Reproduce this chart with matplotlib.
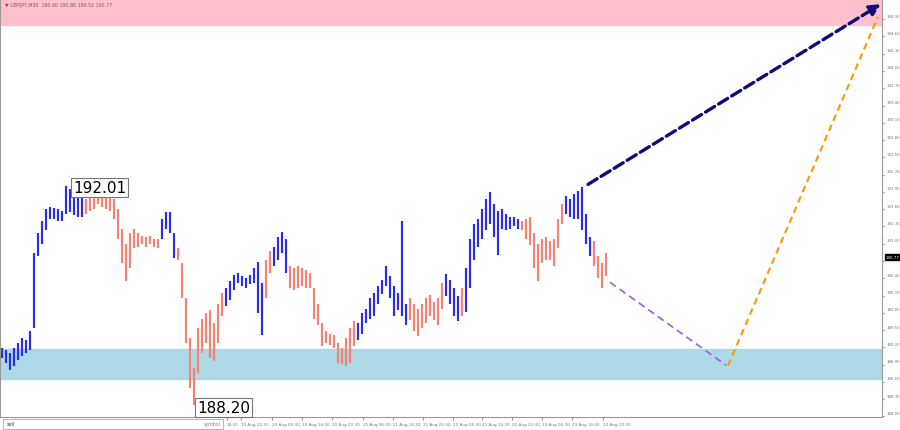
import matplotlib
matplotlib.use("Agg")
import matplotlib.pyplot as plt
import matplotlib.transforms as mtransforms
from matplotlib.patches import Rectangle

# GBPJPY M30 bars (high / low per bar)
highs = [189.19, 189.15, 189.10, 189.19, 189.27, 189.36, 189.32, 189.48, 190.83, 191.18,
         191.40, 191.61, 191.64, 191.62, 191.61, 191.57, 192.01, 191.95, 191.92, 191.92,
         191.86, 191.78, 191.81, 191.86, 191.95, 191.92, 191.95, 191.95, 191.78, 191.61,
         191.26, 191.00, 191.18, 191.26, 191.18, 191.14, 191.12, 191.14, 191.09, 191.09,
         191.43, 191.55, 191.55, 191.18, 190.92, 190.66, 190.05, 189.36, 188.84, 189.53,
         189.70, 189.79, 189.84, 189.62, 189.96, 190.14, 190.23, 190.35, 190.45, 190.49,
         190.44, 190.40, 190.45, 190.57, 190.69, 190.31, 190.71, 190.88, 190.95, 191.12,
         191.21, 191.09, 190.61, 190.57, 190.61, 190.57, 190.54, 190.49, 190.23, 189.96,
         189.62, 189.48, 189.44, 189.41, 189.27, 189.19, 189.36, 189.53, 189.65, 189.62,
         189.79, 189.87, 190.05, 190.14, 190.26, 190.37, 190.61, 190.44, 190.26, 190.14,
         191.40, 189.96, 190.05, 189.96, 189.87, 189.96, 190.05, 190.11, 189.99, 190.05,
         190.31, 190.47, 190.37, 190.23, 190.09, 190.23, 190.57, 191.09, 191.35, 191.43,
         191.61, 191.78, 191.90, 191.69, 191.57, 191.61, 191.52, 191.47, 191.47, 191.43,
         191.40, 191.43, 191.47, 191.18, 191.00, 191.09, 191.12, 191.04, 191.09, 191.43,
         191.69, 191.83, 191.78, 191.86, 191.92, 191.98, 191.52, 191.12, 191.04, 190.78,
         190.66, 190.83]
lows = [189.01, 188.93, 188.81, 188.88, 188.98, 189.05, 189.10, 189.15, 189.53, 190.78,
        191.00, 191.23, 191.43, 191.43, 191.40, 191.40, 191.52, 191.55, 191.49, 191.47,
        191.47, 191.52, 191.57, 191.61, 191.69, 191.64, 191.61, 191.57, 191.43, 191.09,
        190.66, 190.35, 190.57, 190.92, 190.95, 191.00, 190.95, 190.99, 190.95, 190.92,
        191.09, 191.26, 191.18, 190.75, 190.71, 190.05, 189.27, 188.50, 188.20, 188.76,
        189.10, 189.27, 189.01, 188.96, 189.27, 189.74, 189.91, 190.02, 190.19, 190.31,
        190.26, 190.23, 190.30, 190.31, 189.79, 189.41, 190.05, 190.49, 190.61, 190.71,
        190.83, 190.49, 190.23, 190.19, 190.23, 190.26, 190.23, 190.23, 189.70, 189.58,
        189.22, 189.27, 189.24, 189.19, 188.93, 188.91, 188.88, 188.93, 189.22, 189.32,
        189.44, 189.62, 189.70, 189.74, 189.96, 190.13, 190.26, 190.05, 189.75, 189.84,
        189.74, 189.58, 189.67, 189.48, 189.39, 189.53, 189.62, 189.74, 189.67, 189.58,
        189.87, 190.09, 189.96, 189.74, 189.65, 189.74, 189.82, 190.23, 190.71, 190.95,
        191.09, 191.23, 191.35, 191.12, 190.80, 191.26, 191.23, 191.26, 191.30, 191.26,
        191.23, 191.09, 190.97, 190.57, 190.35, 190.66, 190.71, 190.71, 190.61, 190.92,
        191.35, 191.52, 191.47, 191.43, 191.43, 191.23, 191.00, 190.78, 190.61, 190.40,
        190.23, 190.44]
# rising wave legs (bar index ranges, inclusive); the rest are falling legs
up_legs = [(0, 20), (40, 43), (56, 65), (68, 71), (89, 101), (111, 114), (116, 129), (141, 147)]

last_price = 190.77
high_label = "192.01"
low_label = "188.20"

# target zones
resist_zone = (194.80, 196.00)
support_zone = (188.65, 189.17)

# forecast paths (bar index, price)
main_arrow = [(146.5, 192.03), (219.7, 195.16)]
fall_path = [(152, 190.33), (181, 188.89)]
rise_path = [(181.5, 188.88), (219, 194.94)]

price_ticks = [188.00 + 0.30 * k for k in range(24)]
time_ticks = [56.25, 59.75, 67.5, 75, 82.5, 90.25, 97.75, 105.25, 112.75, 120, 127.5, 135, 142.5, 150.25]
time_labels = ["14:30", "19 Aug 22:30", "20 Aug 06:30", "20 Aug 14:30", "20 Aug 22:30",
               "21 Aug 06:30", "21 Aug 14:30", "21 Aug 22:30", "22 Aug 06:30", "22 Aug 14:30",
               "22 Aug 22:30", "23 Aug 06:30", "23 Aug 14:30", "23 Aug 22:30"]

UP = "#2b2be8"
DOWN = "#f58272"

fig = plt.figure(figsize=(9, 4.31), dpi=100)
ax = fig.add_axes([0.0, 13 / 431, 882 / 900, 418 / 431])

colors = [DOWN] * len(highs)
for a, b in up_legs:
    for i in range(a, b + 1):
        colors[i] = UP
ax.vlines(range(len(highs)), lows, highs, colors=colors, linewidth=1.55)

ax.axhspan(*resist_zone, color="pink", zorder=0)
ax.axhspan(*support_zone, color="lightblue", zorder=0)

# forecast lines
ax.annotate("", xy=main_arrow[1], xytext=main_arrow[0],
            arrowprops=dict(arrowstyle="-|>", color="#0b0b7a", lw=2.4, linestyle=(0, (3.2, 1.4)),
                            mutation_scale=16, shrinkA=0, shrinkB=0))
ax.plot([p[0] for p in fall_path], [p[1] for p in fall_path], color="#a066e0", lw=1.3, ls=(0, (4, 2.5)))
ax.plot([p[0] for p in rise_path], [p[1] for p in rise_path], color="#ff9a10", lw=1.6, ls=(0, (3, 2)))

# extreme labels
ax.text(17.8, 191.98, high_label, fontsize=11, ha="left", va="center",
        bbox=dict(boxstyle="square,pad=0.12", fc="white", ec="#777777", lw=0.8))
ax.text(48.8, 188.16, low_label, fontsize=11, ha="left", va="center", clip_on=False,
        bbox=dict(boxstyle="square,pad=0.12", fc="white", ec="#777777", lw=0.8), zorder=5)

ax.set_xlim(-0.5, 220)
ax.set_ylim(187.99, 195.25)

ax.yaxis.tick_right()
ax.set_yticks(price_ticks)
ax.set_yticklabels(["%.2f" % p for p in price_ticks])
ax.tick_params(axis="y", labelsize=2.9, labelcolor="#777777", color="#999999", length=1.5, pad=1.5)
off = mtransforms.ScaledTranslation(0, 4 / 100, fig.dpi_scale_trans)
for lbl in ax.get_yticklabels():
    lbl.set_transform(lbl.get_transform() + off)

ax.set_xticks(time_ticks)
ax.set_xticklabels(time_labels)
ax.tick_params(axis="x", labelsize=3.0, labelcolor="#777777", color="#999999", length=2, pad=1.5)
for lbl in ax.get_xticklabels():
    lbl.set_horizontalalignment("left")

for s in ax.spines.values():
    s.set_color("#999999")
    s.set_linewidth(0.8)
ax.spines["top"].set_visible(False)

# current price box on the scale
ax.text(1.004, last_price, "%.2f" % last_price, transform=ax.get_yaxis_transform(),
        fontsize=2.9, color="white", ha="left", va="center", clip_on=False, zorder=6,
        bbox=dict(boxstyle="square,pad=0.25", fc="black", ec="black"))

# terminal header and bottom bar
fig.text(5 / 900, 1 - 6 / 431, "\u25bc GBPJPY,M30  190.60 190.80 190.52 190.77",
         fontsize=3.4, color="#666666", va="center")
fig.patches.append(Rectangle((3 / 900, 1 / 431), 220 / 900, 10 / 431, transform=fig.transFigure,
                             fill=False, ec="#aaaaaa", lw=0.6))
fig.text(7 / 900, 6 / 431, "sell", fontsize=3.4, color="#333333", va="center")
fig.text(221 / 900, 6 / 431, "symbol", fontsize=3.4, color="#e06060", va="center", ha="right")

fig.savefig("out.png", dpi=100)
